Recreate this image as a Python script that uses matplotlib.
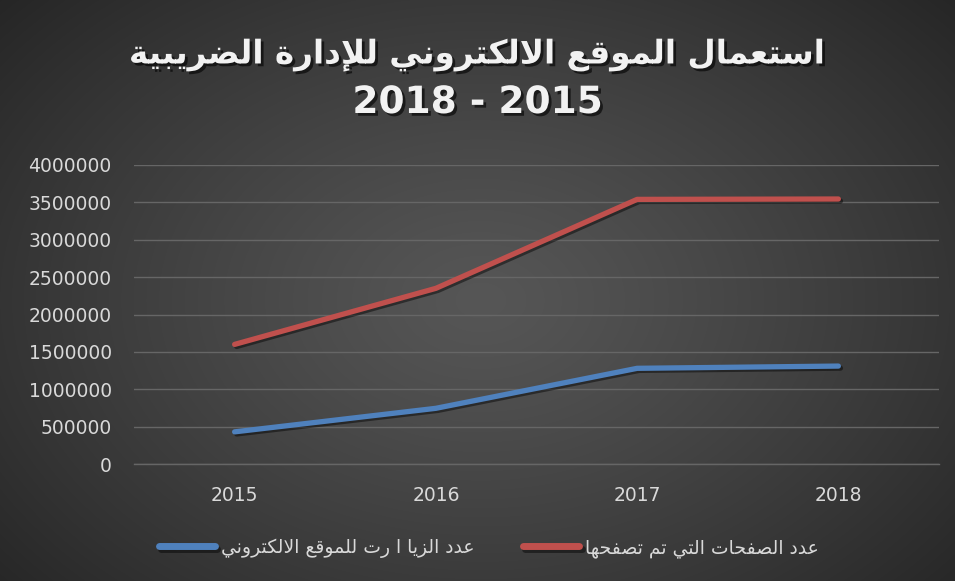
import numpy as np
import matplotlib
matplotlib.use("Agg")
import matplotlib.pyplot as plt
import matplotlib.patheffects as pe

# ---------------- data ----------------
years = ["2015", "2016", "2017", "2018"]
pages_viewed = [1600000, 2350000, 3540000, 3545000]
site_visits = [430000, 745000, 1280000, 1310000]
label_pages = "عدد الصفحات التي تم تصفحها"
label_visits = "عدد الزيا ا رت للموقع الالكتروني"
title_line1 = "استعمال الموقع الالكتروني للإدارة الضريبية"
title_line2 = "2018 - 2015"
y_ticks = [0, 500000, 1000000, 1500000, 2000000, 2500000, 3000000, 3500000, 4000000]

# ------------- minimal Arabic shaping (presentation forms + RTL) -------------
FORMS = {
    '\u0627': ('\uFE8D', '\uFE8E', None, None),
    '\u0625': ('\uFE87', '\uFE88', None, None),
    '\u0623': ('\uFE83', '\uFE84', None, None),
    '\u0628': ('\uFE8F', '\uFE90', '\uFE91', '\uFE92'),
    '\u0629': ('\uFE93', '\uFE94', None, None),
    '\u062A': ('\uFE95', '\uFE96', '\uFE97', '\uFE98'),
    '\u062D': ('\uFEA1', '\uFEA2', '\uFEA3', '\uFEA4'),
    '\u062F': ('\uFEA9', '\uFEAA', None, None),
    '\u0631': ('\uFEAD', '\uFEAE', None, None),
    '\u0632': ('\uFEAF', '\uFEB0', None, None),
    '\u0633': ('\uFEB1', '\uFEB2', '\uFEB3', '\uFEB4'),
    '\u0635': ('\uFEB9', '\uFEBA', '\uFEBB', '\uFEBC'),
    '\u0636': ('\uFEBD', '\uFEBE', '\uFEBF', '\uFEC0'),
    '\u0639': ('\uFEC9', '\uFECA', '\uFECB', '\uFECC'),
    '\u0641': ('\uFED1', '\uFED2', '\uFED3', '\uFED4'),
    '\u0642': ('\uFED5', '\uFED6', '\uFED7', '\uFED8'),
    '\u0643': ('\uFED9', '\uFEDA', '\uFEDB', '\uFEDC'),
    '\u0644': ('\uFEDD', '\uFEDE', '\uFEDF', '\uFEE0'),
    '\u0645': ('\uFEE1', '\uFEE2', '\uFEE3', '\uFEE4'),
    '\u0646': ('\uFEE5', '\uFEE6', '\uFEE7', '\uFEE8'),
    '\u0647': ('\uFEE9', '\uFEEA', '\uFEEB', '\uFEEC'),
    '\u0648': ('\uFEED', '\uFEEE', None, None),
    '\u064A': ('\uFEF1', '\uFEF2', '\uFEF3', '\uFEF4'),
}
LAMALEF = {'\u0627': ('\uFEFB', '\uFEFC'), '\u0625': ('\uFEF9', '\uFEFA'),
           '\u0623': ('\uFEF7', '\uFEF8'), '\u0622': ('\uFEF5', '\uFEF6')}


def shape(s):
    units = []
    i = 0
    while i < len(s):
        c = s[i]
        if c == '\u0644' and i + 1 < len(s) and s[i + 1] in LAMALEF:
            units.append(('LA', s[i + 1]))
            i += 2
        else:
            units.append(('C', c))
            i += 1

    def joins_left(u):
        if u[0] == 'LA':
            return False
        f = FORMS.get(u[1])
        return f is not None and f[2] is not None

    def joins_right(u):
        return u[0] == 'LA' or u[1] in FORMS

    out = []
    for k, u in enumerate(units):
        prev = units[k - 1] if k > 0 else None
        nxt = units[k + 1] if k + 1 < len(units) else None
        jp = prev is not None and joins_left(prev) and joins_right(u)
        jn = nxt is not None and joins_left(u) and joins_right(nxt)
        if u[0] == 'LA':
            out.append(LAMALEF[u[1]][1 if jp else 0])
        elif u[1] in FORMS:
            f = FORMS[u[1]]
            if jp and jn:
                out.append(f[3])
            elif jp:
                out.append(f[1])
            elif jn:
                out.append(f[2])
            else:
                out.append(f[0])
        else:
            out.append(u[1])
    return ''.join(out)[::-1]


# ---------------- figure ----------------
W, H = 955, 581
fig = plt.figure(figsize=(W / 100, H / 100), dpi=100)

# radial gradient background
bg = fig.add_axes([0, 0, 1, 1], zorder=-1)
yy, xx = np.mgrid[0:H, 0:W]
r = np.sqrt(((xx - 480) / 640.0) ** 2 + ((yy - 300) / 450.0) ** 2)
r = np.clip(r, 0, 1)
center = np.array([86, 86, 86]) / 255.0
edge = np.array([38, 38, 38]) / 255.0
img = center[None, None, :] + (edge - center)[None, None, :] * r[..., None] ** 1.2
bg.imshow(img, aspect='auto', extent=[0, 1, 0, 1], origin='upper')
bg.axis('off')

ax = fig.add_axes([134 / W, 1 - 464 / H, (939 - 134) / W, (464 - 165) / H])
ax.set_facecolor('none')

x = np.arange(len(years))
shadow = [pe.SimpleLineShadow(offset=(1.5, -1.5), shadow_color='black', alpha=0.45),
          pe.Normal()]
ax.plot(x, site_visits, color='#4F81BD', lw=3.8, solid_capstyle='round',
        solid_joinstyle='round', label=shape(label_visits), path_effects=shadow, zorder=3)
ax.plot(x, pages_viewed, color='#C0504D', lw=3.8, solid_capstyle='round',
        solid_joinstyle='round', label=shape(label_pages), path_effects=shadow, zorder=3)

ax.set_xlim(-0.5, len(years) - 0.5)
ax.set_ylim(0, 4000000)
ax.set_yticks(y_ticks)
ax.set_yticklabels([str(v) for v in y_ticks])
ax.set_xticks(x)
ax.set_xticklabels(years)
ax.grid(axis='y', color='#666666', lw=1.0)
ax.axhline(0, color='#666666', lw=1.0, clip_on=False, zorder=1)
ax.set_axisbelow(True)
for s in ax.spines.values():
    s.set_visible(False)
ax.tick_params(axis='both', length=0, colors='#D9D9D9', labelsize=13.5)
ax.tick_params(axis='y', pad=16)
ax.tick_params(axis='x', pad=16)

# title
tfx = [pe.withSimplePatchShadow(offset=(2, -2), shadow_rgbFace='black', alpha=0.6)]
fig.text(0.5, 1 - 55 / H, shape(title_line1), ha='center', va='center', color='#F2F2F2',
         fontsize=23.5, fontweight='bold', family='DejaVu Sans', path_effects=tfx)
fig.text(0.5, 1 - 103 / H, title_line2, ha='center', va='center', color='#F2F2F2',
         fontsize=27, fontweight='bold', family='DejaVu Sans', path_effects=tfx)

leg = fig.legend(loc='center', bbox_to_anchor=(0.512, 1 - 548 / H), ncol=2, frameon=False,
                 fontsize=13.5, handlelength=3.0, handletextpad=0.3, columnspacing=2.6,
                 labelcolor='#D9D9D9')
for line in leg.get_lines():
    line.set_linewidth(5)
    line.set_solid_capstyle('round')

fig.savefig('out.png', dpi=100)
